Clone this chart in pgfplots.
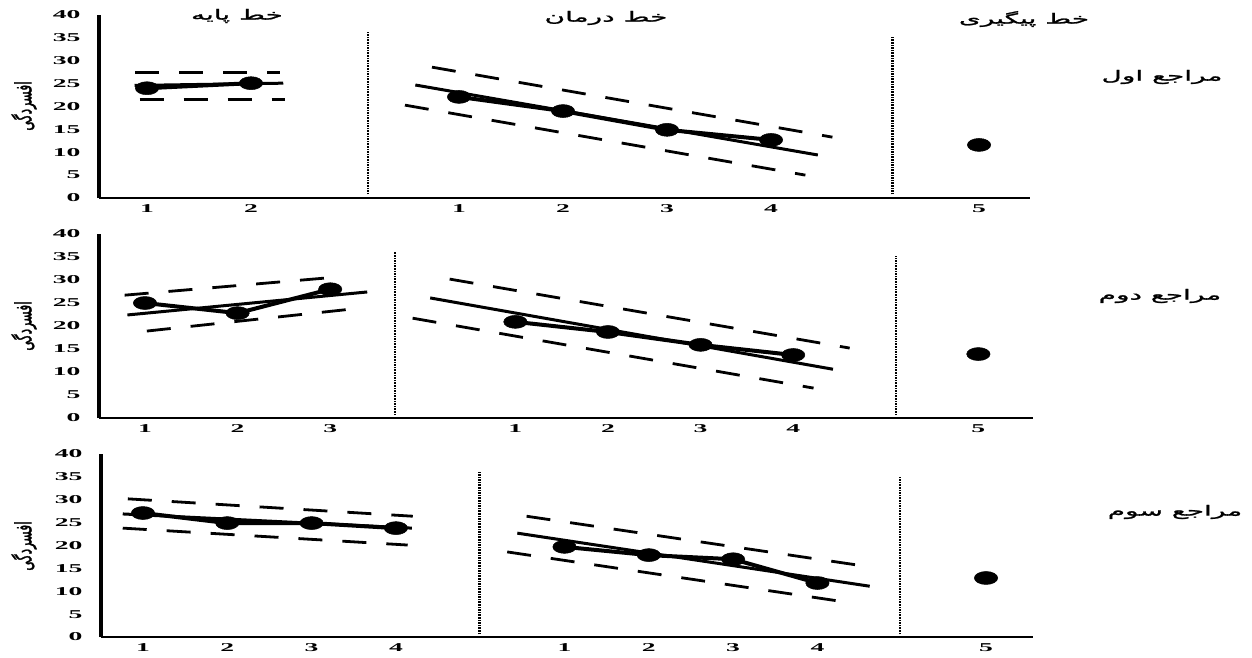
\documentclass[border=0pt]{standalone}
\usepackage{pgfplots}
\pgfplotsset{compat=1.18}
\usepackage{fontspec}
\setmainfont{Liberation Serif}
\newfontfamily\tickfont[FakeStretch=2.3]{Liberation Serif}
\newfontfamily\fafont[Script=Arabic,FakeStretch=2.0,FakeBold=1.6]{DejaVu Sans}
\newfontfamily\fafontR[Script=Arabic,FakeBold=1.6]{DejaVu Sans}
\TeXXeTstate=1
\newcommand\fa[1]{{\fontsize{14}{15}\fafont\beginR #1\endR}}
\newcommand\ylab[1]{\scalebox{1.8}[1]{\rotatebox{90}{\fontsize{12.5}{13}\fafontR\beginR #1\endR}}}

\pgfplotsset{
  panel/.style={
    scale only axis, clip=false,
    axis x line*=bottom, axis y line*=left,
    axis line style={-},
    x axis line style={line width=2.5pt},
    y axis line style={line width=4pt},
    ymin=0, ymax=40, ytick={0,5,...,40},
    major tick length=0pt,
    tick label style={font=\fontsize{12}{12}\tickfont\bfseries},
    /pgf/number format/assume math mode=true,
    yticklabel style={xshift=-15pt},
    xticklabel style={yshift=-3pt},
    anchor=south west,
  },
  dat/.style={black, line width=4pt, mark=*, mark size=6.5pt,
    mark options={xscale=1.8, solid, line width=0.5pt}},
  trend/.style={black, line width=3pt, no marks},
  band/.style={black, line width=2.8pt, dash pattern=on 24pt off 20pt, no marks},
  phase/.style={black, line width=2.6pt, dash pattern=on 1.6pt off 1pt, no marks},
}

\begin{document}
\begin{tikzpicture}
\path[use as bounding box] (0,0) rectangle (1252pt,-658pt);

% ---- client 1
\begin{axis}[panel, at={(99pt,-198pt)}, width=931pt, height=183pt,
  xmin=-0.4615, xmax=8.49,
  xtick={0,1,3,4,5,6,8}, xticklabels={1,2,1,2,3,4,5}]
  \addplot[band] coordinates {(-0.115,27.5) (1.28,27.5)};
  \addplot[band] coordinates {(-0.07,21.6) (1.33,21.6)};
  \addplot[trend] coordinates {(-0.12,24.6) (1.31,25.1)};
  \addplot[dat] coordinates {(0,24.0) (1,25.1)};
  \addplot[phase] coordinates {(2.125,0.8) (2.125,36.3)};
  \addplot[band] coordinates {(2.74,28.6) (6.59,13.3)};
  \addplot[band] coordinates {(2.48,20.3) (6.33,5.0)};
  \addplot[trend] coordinates {(2.58,24.7) (6.45,9.4)};
  \addplot[dat] coordinates {(3,22.1) (4,19.0) (5,14.9) (6,12.7)};
  \addplot[phase] coordinates {(7.17,0.8) (7.17,35.4)};
  \addplot[dat] coordinates {(8,11.6)};
\end{axis}

% ---- client 2
\begin{axis}[panel, at={(99pt,-418pt)}, width=934pt, height=184pt,
  xmin=-0.4968, xmax=9.59,
  xtick={0,1,2,4,5,6,7,9}, xticklabels={1,2,3,1,2,3,4,5}]
  \addplot[band] coordinates {(-0.22,26.7) (2.05,30.6)};
  \addplot[band] coordinates {(0.02,18.9) (2.24,23.7)};
  \addplot[trend] coordinates {(-0.19,22.4) (2.40,27.4)};
  \addplot[dat] coordinates {(0,25.0) (1,22.8) (2,28.0)};
  \addplot[phase] coordinates {(2.70,0.6) (2.70,36.1)};
  \addplot[band] coordinates {(3.29,30.2) (7.61,15.2)};
  \addplot[band] coordinates {(2.89,21.7) (7.22,6.5)};
  \addplot[trend] coordinates {(3.08,26.1) (7.43,10.6)};
  \addplot[dat] coordinates {(4,20.9) (5,18.7) (6,15.9) (7,13.7)};
  \addplot[phase] coordinates {(8.11,0.6) (8.11,35.2)};
  \addplot[dat] coordinates {(9,13.9)};
\end{axis}

% ---- client 3
\begin{axis}[panel, at={(101pt,-637pt)}, width=932pt, height=183pt,
  xmin=-0.498, xmax=10.557,
  xtick={0,1,2,3,5,6,7,8,10}, xticklabels={1,2,3,4,1,2,3,4,5}]
  \addplot[band] coordinates {(-0.18,30.2) (3.20,26.4)};
  \addplot[band] coordinates {(-0.24,23.8) (3.14,20.1)};
  \addplot[trend] coordinates {(-0.24,26.9) (3.19,23.8)};
  \addplot[dat] coordinates {(0,27.1) (1,24.9) (2,24.9) (3,23.8)};
  \addplot[phase] coordinates {(3.99,0.6) (3.99,36.1)};
  \addplot[band] coordinates {(4.55,26.4) (8.56,15.5)};
  \addplot[band] coordinates {(4.32,18.6) (8.35,7.6)};
  \addplot[trend] coordinates {(4.44,22.7) (8.62,11.1)};
  \addplot[dat] coordinates {(5,19.7) (6,17.9) (7,17.0) (8,11.8)};
  \addplot[phase] coordinates {(8.98,0.6) (8.98,35.2)};
  \addplot[dat] coordinates {(10,12.9)};
\end{axis}

% phase titles
\node at (237pt,-16pt) {\fa{خط پایه}};
\node at (606pt,-18pt) {\fa{خط درمان}};
\node at (1024pt,-19pt) {\fa{خط پیگیری}};
% client names
\node at (1162pt,-77pt) {\fa{مراجع اول}};
\node at (1160pt,-296pt) {\fa{مراجع دوم}};
\node at (1175pt,-512pt) {\fa{مراجع سوم}};
% y labels
\node at (24pt,-106pt) {\ylab{افسردگی}};
\node at (24pt,-326pt) {\ylab{افسردگی}};
\node at (24pt,-546pt) {\ylab{افسردگی}};
\end{tikzpicture}
\end{document}
